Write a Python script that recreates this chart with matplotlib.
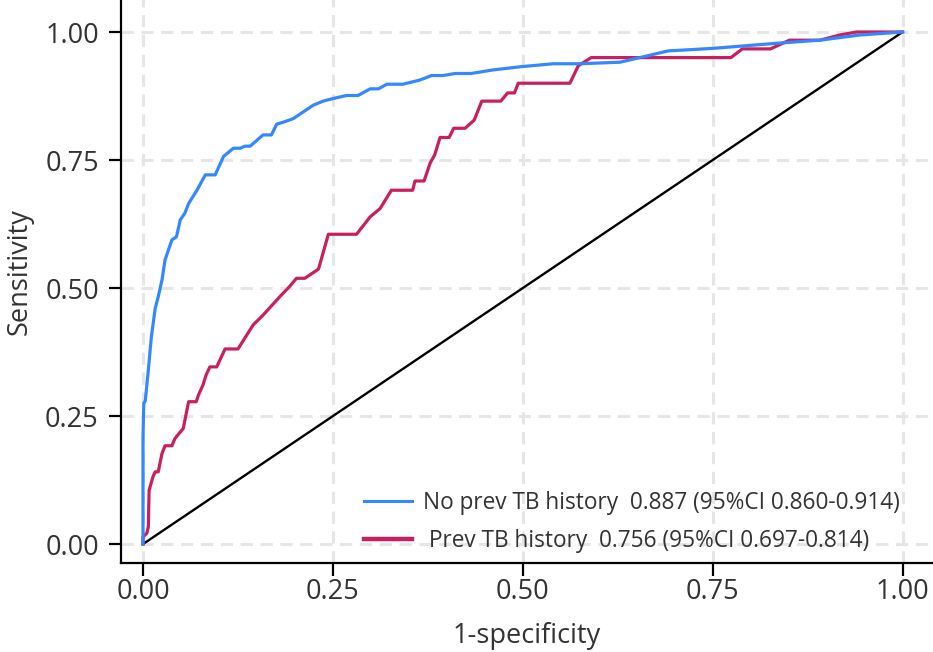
import matplotlib.pyplot as plt
from matplotlib.lines import Line2D

# --- DATA ---
no_prev_fpr = [0.0, 0.0, 0.0, 0.001, 0.003, 0.007, 0.011, 0.016, 0.02, 0.025, 0.029,
               0.038, 0.044, 0.049, 0.055, 0.06, 0.071, 0.082, 0.095, 0.106, 0.119,
               0.128, 0.134, 0.141, 0.158, 0.169, 0.176, 0.187, 0.198, 0.211, 0.224,
               0.237, 0.25, 0.268, 0.283, 0.299, 0.31, 0.321, 0.342, 0.364, 0.38,
               0.395, 0.411, 0.432, 0.461, 0.496, 0.54, 0.575, 0.628, 0.654, 0.691,
               0.75, 0.834, 0.891, 0.943, 1.0]
no_prev_tpr = [0.0, 0.08, 0.21, 0.275, 0.28, 0.34, 0.405, 0.46, 0.483, 0.516, 0.555,
               0.594, 0.6, 0.633, 0.646, 0.665, 0.691, 0.721, 0.721, 0.757, 0.773,
               0.773, 0.777, 0.777, 0.799, 0.799, 0.82, 0.825, 0.831, 0.844, 0.857,
               0.865, 0.87, 0.876, 0.876, 0.889, 0.889, 0.898, 0.898, 0.906, 0.915,
               0.915, 0.919, 0.919, 0.926, 0.932, 0.938, 0.938, 0.941, 0.95, 0.963,
               0.968, 0.978, 0.984, 0.994, 1.0]

prev_fpr = [0.0, 0.0, 0.005, 0.007, 0.008, 0.013, 0.016, 0.02, 0.025, 0.029, 0.038,
            0.042, 0.053, 0.06, 0.07, 0.073, 0.079, 0.083, 0.088, 0.097, 0.108,
            0.125, 0.145, 0.158, 0.18, 0.193, 0.202, 0.213, 0.231, 0.244, 0.281,
            0.299, 0.312, 0.327, 0.355, 0.358, 0.37, 0.378, 0.384, 0.391, 0.403,
            0.409, 0.424, 0.436, 0.446, 0.471, 0.48, 0.489, 0.494, 0.562, 0.573,
            0.59, 0.774, 0.789, 0.826, 0.851, 0.891, 0.917, 0.939, 1.0]
prev_tpr = [0.0, 0.014, 0.021, 0.034, 0.105, 0.131, 0.141, 0.141, 0.177, 0.192, 0.192,
            0.206, 0.226, 0.278, 0.278, 0.291, 0.311, 0.33, 0.346, 0.346, 0.381,
            0.381, 0.428, 0.447, 0.483, 0.503, 0.519, 0.519, 0.537, 0.605, 0.605,
            0.639, 0.655, 0.691, 0.691, 0.709, 0.709, 0.744, 0.76, 0.794, 0.794,
            0.812, 0.812, 0.828, 0.865, 0.865, 0.881, 0.881, 0.9, 0.9, 0.934,
            0.95, 0.95, 0.967, 0.967, 0.984, 0.984, 0.994, 1.0, 1.0]

labels = ["No prev TB history  0.887 (95%CI 0.860-0.914)",
          " Prev TB history  0.756 (95%CI 0.697-0.814)"]
ticks = [0.0, 0.25, 0.5, 0.75, 1.0]
tick_labels = ["0.00", "0.25", "0.50", "0.75", "1.00"]

BLUE = "#3388ff"
RED = "#c81f5e"
TXT = "#333333"

plt.rcParams['font.family'] = ['Open Sans', 'DejaVu Sans']

W, H = 933, 652
fig = plt.figure(figsize=(W / 100, H / 100), dpi=100)
# axes top sits a bit above the canvas (plot is cropped at the top)
ax = fig.add_axes([121 / W, (H - 563) / H, 1 - 121 / W, (563 + 19) / H])

# grid
for t in ticks:
    ax.axvline(t, color="#e6e6e6", lw=2.2, dashes=(4, 2.5), zorder=0)
    ax.axhline(t, color="#e6e6e6", lw=2.2, dashes=(4, 2.5), zorder=0)

ax.plot([0, 1], [0, 1], color="black", lw=1.7, zorder=2)
ax.plot(prev_fpr, prev_tpr, color=RED, lw=2.3, zorder=3)
ax.plot(no_prev_fpr, no_prev_tpr, color=BLUE, lw=2.3, zorder=4)

ax.set_xlim(-0.029, 1.04)
ax.set_ylim(-0.037, 1.0996)

for s in ["top", "right"]:
    ax.spines[s].set_visible(False)
for s in ["left", "bottom"]:
    ax.spines[s].set_linewidth(1.6)

ax.set_xticks(ticks)
ax.set_xticklabels(tick_labels)
ax.set_yticks(ticks)
ax.set_yticklabels(tick_labels)
ax.tick_params(length=9, width=1.6, labelsize=19.5, labelcolor=TXT)
ax.tick_params(axis="x", pad=2)
ax.tick_params(axis="y", pad=7)

ax.set_xlabel("1-specificity", fontsize=19.5, color=TXT, labelpad=11)
ax.set_ylabel("Sensitivity", fontsize=19.5, color=TXT, labelpad=8)

handles = [Line2D([], [], color=BLUE, lw=2.2),
           Line2D([], [], color=RED, lw=3.2)]
ax.legend(handles, labels, loc="lower left", bbox_to_anchor=(364 / W, (H - 553) / H),
          bbox_transform=fig.transFigure, borderaxespad=0, borderpad=0,
          frameon=False, fontsize=16.3, labelcolor=TXT, handlelength=2.1,
          handletextpad=0.5, labelspacing=0.6)

fig.savefig("out.png", dpi=100)
